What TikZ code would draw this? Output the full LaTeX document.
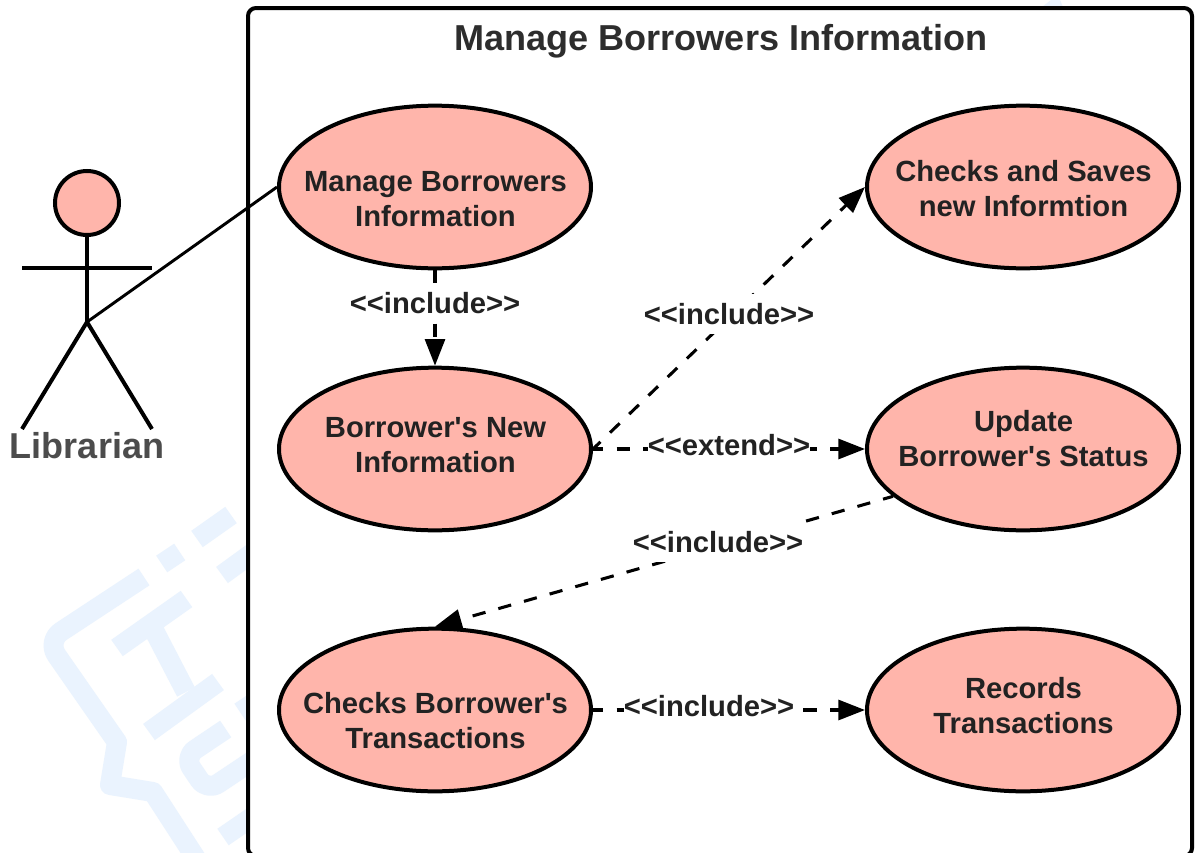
\documentclass[tikz,border=0pt]{standalone}
\usepackage{fontspec}
\setmainfont{Liberation Sans}
\newfontfamily\plainsans{Liberation Sans}
\usetikzlibrary{arrows.meta,shapes.geometric}
\definecolor{uc}{HTML}{FFB5AB}
\definecolor{wm}{HTML}{EAF3FE}
\definecolor{tx}{HTML}{222222}
\tikzset{
  usecase/.style={ellipse,draw=black,fill=uc,line width=3pt,minimum width=234pt,minimum height=122pt,inner sep=0pt},
  uctext/.style={align=center,inner sep=0pt,font=\plainsans\fontsize{21.9}{26.25}\selectfont\bfseries,text=tx},
  rel/.style={draw=black,line width=2.3pt,dash pattern=on 10pt off 10pt,dash phase=2.25pt,-{Triangle[length=20pt,width=15pt]}},
  rellabel/.style={font=\plainsans\fontsize{21.9}{24}\selectfont\bfseries,text=tx,fill=white,inner xsep=0pt,inner ysep=0pt,minimum height=30pt},
  stick/.style={draw=black,line width=3pt},
  wmark/.style={draw=wm,line width=15pt,line join=round}
}
\begin{document}
\begin{tikzpicture}[x=0.75pt,y=-0.75pt]
\useasboundingbox (0,0) rectangle (1196,853);
\fill[white] (0,0) rectangle (1196,853);
% watermark
\begin{scope}
\clip (0,0) rectangle (248,853);
\draw[wmark] (144,577) [rounded corners=13pt] -- (46.7,641) [sharp corners] -- (117,742) -- (110,785) -- (153,792) -- (197,860);
\draw[wmark] (161.7,564) -- (179.7,552);
\draw[wmark] (197,539) -- (231,515);
\draw[wmark] (222,575) -- (255,551);
\draw[wmark] (117,648) -- (186.5,599);
\draw[wmark] (150.7,624) -- (186,692);
\draw[wmark] (149,732) -- (218,682);
\draw[wmark] (240,712) -- (255,702);
\draw[wmark,rounded corners=10pt] (225.7,729) -- (184,757) -- (207,791) -- (255,759);
\draw[wmark] (223,837) -- (255,815);
\end{scope}
\fill[wm] (1042,7) -- (1051,0) -- (1060,0) -- (1063,7) -- cycle;
% system boundary
\draw[line width=3pt,rounded corners=6pt] (248,8) rectangle (1192,856);
\node[font=\plainsans\fontsize{27.05}{30}\selectfont\bfseries,text=tx!95!white] (title) at (721,41) {Manage Borrowers Information};
% use cases
\node[usecase] (mbi) at (435,187) {};
\node[usecase] (new) at (435,449) {};
\node[usecase] (cbt) at (435,710) {};
\node[usecase] (chk) at (1023,187) {};
\node[usecase] (upd) at (1023,449) {};
\node[usecase] (rec) at (1023,710) {};
\node[uctext] (mbit) at (435.5,199) {Manage Borrowers\\Information};
\node[uctext] (newt) at (435.5,445) {Borrower's New\\Information};
\node[uctext] (cbtt) at (435.5,721) {Checks Borrower's\\Transactions};
\node[uctext] (chkt) at (1023.5,189) {Checks and Saves\\new Informtion};
\node[uctext] (updt) at (1023.5,439) {Update\\Borrower's Status};
\node[uctext] (rect) at (1023.5,706) {Records\\Transactions};
% actor
\node[circle,draw=black,fill=uc,line width=3pt,minimum size=48pt,inner sep=0pt] (head) at (87,203) {};
\coordinate (hip) at (87,322);
\coordinate (armL) at (22,268);
\coordinate (armR) at (152,268);
\coordinate (footL) at (22,429);
\coordinate (footR) at (152,429);
\draw[stick] (head.south) -- (hip);
\draw[stick] (armL) -- (armR);
\draw[stick] (footL) -- (hip) -- (footR);
\node[font=\plainsans\fontsize{27}{30}\selectfont\bfseries,text=black!70] (lib) at (87,446) {Librarian};
\draw[line width=2.2pt] (hip) -- (mbi.west);
% relations
\draw[rel,dash phase=0pt] (mbi.south) -- (new.north);
\node[rellabel] (l1) at (435,303) {<{}<include>{}>};
\draw[rel] (new.east) -- (chk.west);
\node[rellabel] (l2) at (729,314) {<{}<include>{}>};
\draw[rel] (new.east) -- (upd.west);
\node[rellabel] (l3) at (729,445) {<{}<extend>{}>};
\draw[rel] (upd.200.6) -- (cbt.north);
\node[rellabel] (l4) at (718,542) {<{}<include>{}>};
\draw[rel] (cbt.east) -- (rec.west);
\node[rellabel] (l5) at (709,706) {<{}<include>{}>};
\end{tikzpicture}
\end{document}
